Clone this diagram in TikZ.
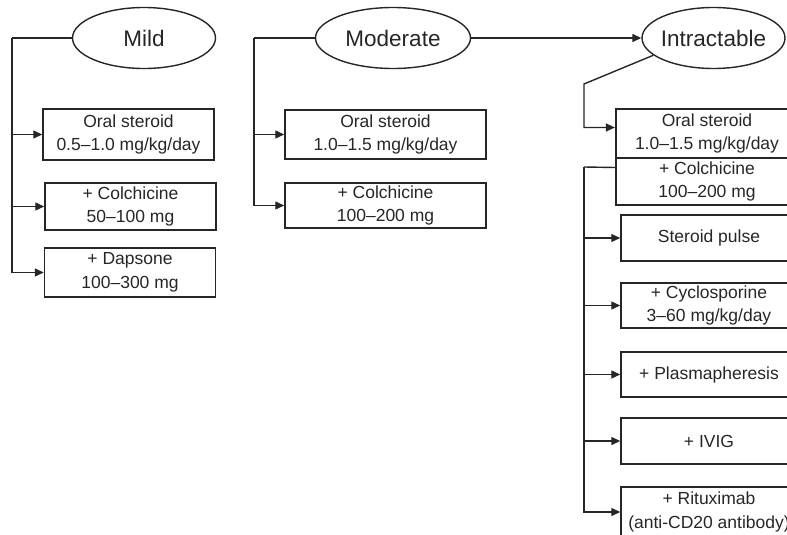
\documentclass[tikz,border=0pt]{standalone}
\usepackage{fontspec}
\setmainfont{Liberation Sans}
\usetikzlibrary{arrows.meta, shapes.geometric}

\begin{document}
\begin{tikzpicture}[x=1pt, y=-1pt, color=black!85,
        grade/.style={draw, ellipse, minimum width=143pt, minimum height=61pt, inner sep=0pt, line width=1.4pt, font=\fontsize{22.5}{26}\selectfont},
        therapy/.style={draw, rectangle, minimum width=171pt, inner sep=0pt, align=center, line width=1.5pt, font=\fontsize{17.5}{23.5}\selectfont},
        arrow/.style={-{Triangle[length=9pt, width=8pt]}, line width=1.4pt},
        link/.style={line width=1.4pt}
    ]
    \useasboundingbox (0,0) rectangle (787,535);
    \clip (0,0) rectangle (787,535);

    % --- Grades ---
    \node[grade] (mild) at (144,38) {Mild};
    \node[grade, minimum width=155pt] (moderate) at (393,38) {Moderate};
    \node[grade, inner xsep=-2pt] (intractable) at (713.5,38) {Intractable};

    % --- Mild ---
    \node[therapy, minimum height=51pt] (mildsteroid) at (128.5,134.5) {Oral steroid\\0.5--1.0 mg/kg/day};
    \node[therapy, minimum height=47pt] (mildcolch) at (130.5,206.5) {+ Colchicine\\50--100 mg};
    \node[therapy, minimum height=49pt] (milddapsone) at (130,272.5) {+ Dapsone\\100--300 mg};

    % --- Moderate ---
    \node[therapy, minimum width=201pt, minimum height=49pt] (modsteroid) at (385.5,134.5) {Oral steroid\\1.0--1.5 mg/kg/day};
    \node[therapy, minimum width=201pt, minimum height=45pt] (modcolch) at (385.5,205.5) {+ Colchicine\\100--200 mg};

    % --- Intractable ---
    \node[therapy, minimum width=182pt, minimum height=49pt, line width=2.2pt] (intsteroid) at (707,133.5) {Oral steroid\\1.0--1.5 mg/kg/day};
    \node[therapy, minimum width=182pt, minimum height=47pt, line width=2.2pt] (intcolch) at (707,181.5) {+ Colchicine\\100--200 mg};
    \node[therapy, minimum width=176pt, minimum height=46pt] (pulse) at (709,238) {Steroid pulse};
    \node[therapy, minimum width=176pt, minimum height=45pt] (cyclo) at (709,305.5) {+ Cyclosporine\\3--60 mg/kg/day};
    \node[therapy, minimum width=176pt, minimum height=45pt] (plasma) at (709,374.5) {+ Plasmapheresis};
    \node[therapy, minimum width=176pt, minimum height=46pt] (ivig) at (709,441) {+ IVIG};
    \node[therapy, minimum width=176pt, minimum height=50pt] (ritux) at (709,512) {+ Rituximab\\(anti-CD20 antibody)};

    % --- Arrows ---
    \coordinate (mildcorner) at (12,38);
    \draw[link] (mild.west) -- (mildcorner);
    \draw[arrow] (mildcorner) |- (mildsteroid.west);
    \draw[arrow] (mildcorner) |- (mildcolch.west);
    \draw[arrow] (mildcorner) |- (milddapsone.west);

    \coordinate (modcorner) at (254,38);
    \draw[link] (moderate.west) -- (modcorner);
    \draw[arrow] (modcorner) |- (modsteroid.west);
    \draw[arrow] (modcorner) |- (modcolch.west);

    \draw[arrow] (moderate.east) -- (intractable.west);

    \coordinate (intbend) at (584,84);
    \draw[arrow] (intractable.196) -- (intbend) |- ([yshift=6pt]intsteroid.west);

    \coordinate (intcorner) at (584,167);
    \draw[link] ([yshift=14pt]intcolch.west) -- (intcorner);
    \draw[arrow] (intcorner) |- (pulse.west);
    \draw[arrow] (intcorner) |- (cyclo.west);
    \draw[arrow] (intcorner) |- (plasma.west);
    \draw[arrow] (intcorner) |- (ivig.west);
    \draw[arrow] (intcorner) |- (ritux.west);

\end{tikzpicture}
\end{document}
